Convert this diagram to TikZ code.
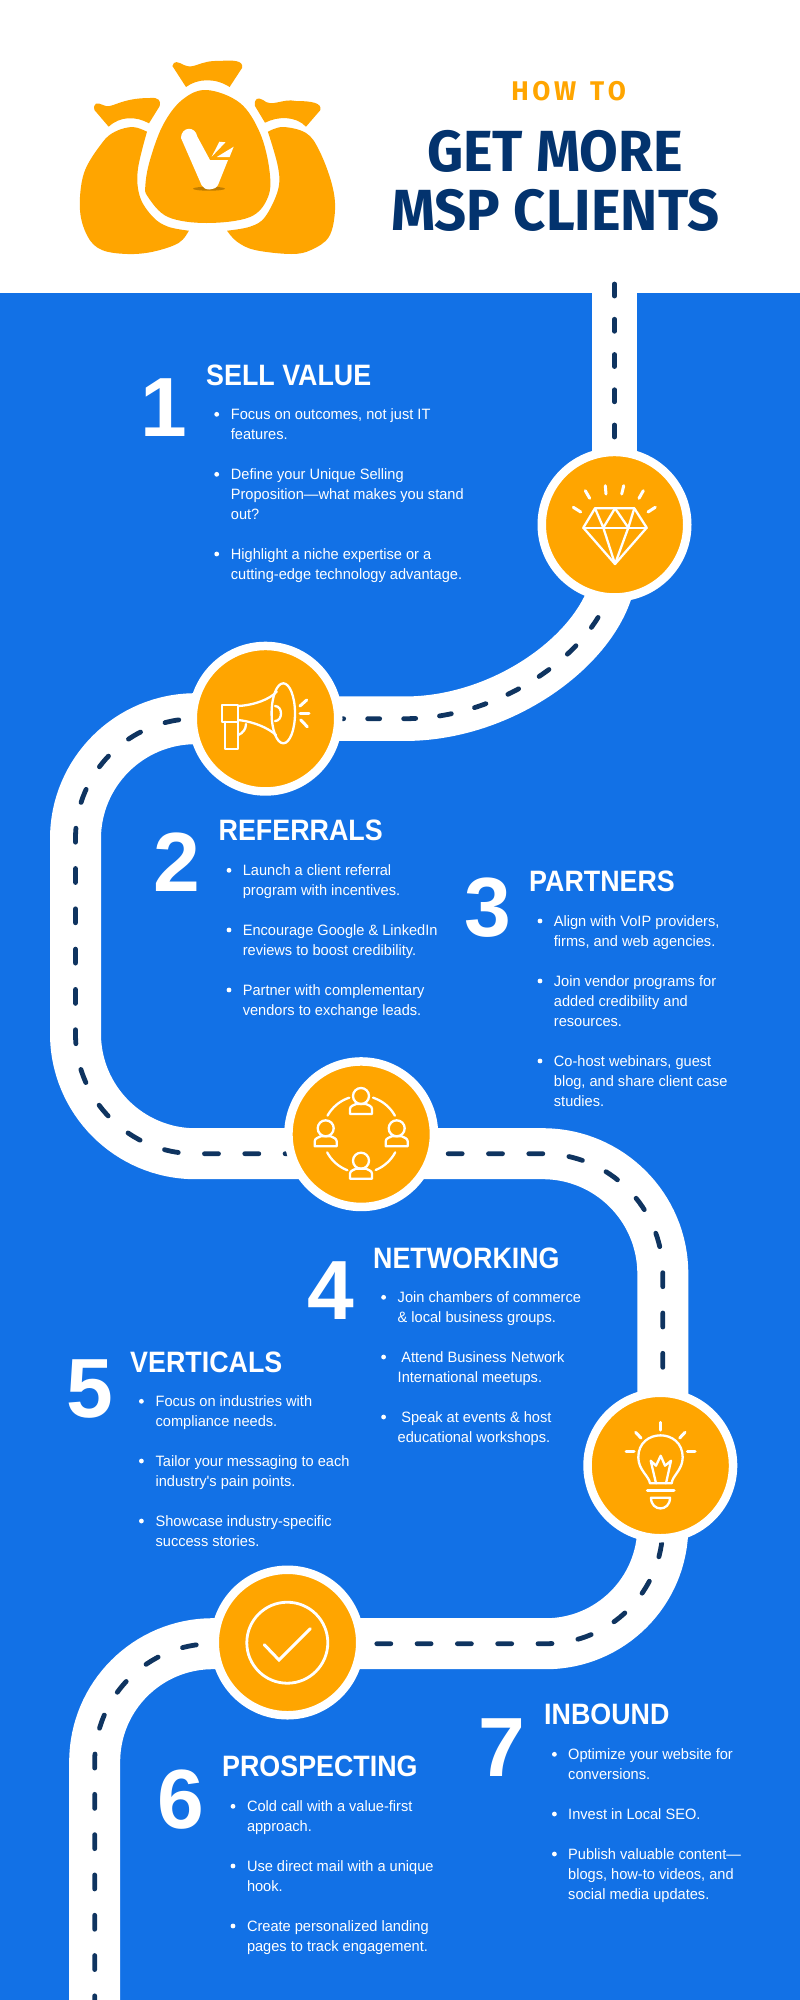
\documentclass[tikz,border=0pt]{standalone}
\usepackage{fontspec}
\setmainfont{Liberation Sans}
\newfontfamily\bodyfont[FakeStretch=0.973]{Liberation Sans}
\newfontfamily\headfont[FakeStretch=0.91]{Liberation Sans}
\newfontfamily\titlefont[FakeStretch=0.968]{Fira Sans}
\usetikzlibrary{backgrounds}
\definecolor{pageblue}{HTML}{1271E6}
\definecolor{stoporange}{HTML}{FFA500}
\definecolor{titlenavy}{HTML}{03336E}
\definecolor{roadink}{HTML}{0F3460}
\tikzset{
  road/.style n args={5}{draw=white,line width=#1pt,rounded corners=#2pt,
    postaction={draw=roadink,line width=4.8pt,line cap=round,dash pattern=on #3pt off #4pt,dash phase=#5pt}},
  stop/.style={circle,fill=stoporange,draw=white,line width=8.5pt,minimum size=145.5pt,inner sep=0pt},
  icon/.style={draw=white,line width=2.3pt,line cap=round,line join=round},
  ray/.style={draw=white,line width=3pt,line cap=round},
  bignum/.style={anchor=base,inner sep=0pt,text=white,font=\fontsize{84}{84}\selectfont\bfseries},
  heading/.style={anchor=base west,inner sep=0pt,text=white,font=\headfont\fontsize{29.5}{30}\selectfont\bfseries},
  body/.style={anchor=base west,inner sep=0pt,text=white,align=left,font=\bodyfont\fontsize{15}{20}\selectfont},
  person/.pic={
    \draw[icon] (0,0) circle (8pt);
    \draw[icon] (-11,18) -- (-11,13) .. controls (-11,10) and (-7,9) .. (-5,8) -- (5,8)
      .. controls (7,9) and (11,10) .. (11,13) -- (11,18) -- cycle;
  }
}
\begin{document}
\begin{tikzpicture}[x=1pt,y=-1pt]
\useasboundingbox (0,0) rectangle (800,2000);
% stops along the road
\node[stop] (gem) at (614.5,524.7) {};
\node[stop] (mega) at (265.5,718.7) {};
\node[stop] (people) at (361.2,1134.2) {};
\node[stop] (bulb) at (660.3,1465.5) {};
\node[stop] (check) at (287.5,1642.5) {};
\coordinate (roadtop) at (614.5,284);
\coordinate (bendA) at (75.5,1153.7);
\coordinate (bendB) at (662.8,1465);
\coordinate (bendC) at (94.7,1643.7);
\coordinate (roadend) at (94.7,2004);
\begin{scope}[on background layer]
\fill[pageblue] (0,293) rectangle (800,2000);
\draw[road={44.5}{0}{12}{23.25}{0}] (roadtop) -- (gem.center);
\draw[road={44.5}{0}{12}{24}{12}] (gem.center) -- (614.5,570) .. controls (610,640) and (510,718.7) .. (405,718.7) -- (mega.center);
\draw[road={51}{120}{14}{26.3}{34.1}] (mega.center) -| (bendA) -- (people |- bendA);
\draw[road={51}{120}{14}{26.3}{33.9}] (people |- bendA) -| (bendB);
\draw[road={51}{117}{14}{26.3}{2.5}] (bendB) |- (check |- bendC);
\draw[road={51}{118}{14}{26.3}{29.6}] (check |- bendC) -| (roadend);
\end{scope}
% header
\node[anchor=base,inner sep=0pt,text=stoporange] (howto) at (568.6,100.3)
  {\titlefont\fontsize{27}{27}\selectfont\bfseries H\kern3.7pt O\kern3.7pt W\; T\kern3.7pt O};
\node[anchor=base,inner sep=0pt,text=titlenavy] (getmore) at (555,171)
  {\titlefont\fontsize{58}{58}\selectfont\bfseries GET MORE};
\node[anchor=base,inner sep=0pt,text=titlenavy] (mspclients) at (555.5,230)
  {\titlefont\fontsize{58}{58}\selectfont\bfseries MSP CLIENTS};
% money bags
\fill[stoporange] plot[smooth cycle,tension=.6] coordinates {(206.6,90) (182,100) (163,125) (150,160) (145.4,185) (148,197) (168,217) (206.6,223) (250,217) (268,197) (269.4,170) (260,133) (240,103)};
\fill[stoporange] (172.4,66) .. controls (174,60) and (178,62) .. (184,65) .. controls (194,70) and (200,60) .. (219.4,61) .. controls (232,60) and (244,60) .. (242,68) -- (229.6,87) .. controls (216,78) and (198,78) .. (186,87) -- cycle;
\fill[stoporange] plot[smooth,tension=.6] coordinates {(147,131.7) (132.6,127) (115,131.7) (102,143) (84,173) (80,210) (87.8,236.7) (102,250) (127.6,254) (153,251.7) (178.6,243) (188.8,230.7)} -- plot[smooth,tension=.6] coordinates {(188.8,230.7) (168,226.7) (153,217) (140,197) (137.8,170) (147,131.7)};
\fill[stoporange] (94.4,110) .. controls (93,103) and (97,102) .. (103,105) .. controls (112,110) and (118,98) .. (150,98) .. controls (159,97) and (161,101) .. (159.7,106) -- (149,123.3) .. controls (136,116) and (120,116) .. (108.7,126.7) -- cycle;
\fill[stoporange] plot[smooth,tension=.6] coordinates {(267.9,131.7) (283,127) (306,133) (319,150) (331.6,183) (335,210) (329,236.7) (311,250) (291,254) (255,250) (237,241.7) (227,230.7)} -- plot[smooth,tension=.6] coordinates {(227,230.7) (250,226.7) (265,217) (278,190) (278,167) (267.9,131.7)};
\fill[stoporange] (255,106) .. controls (254,98) and (258,97) .. (263,100) .. controls (272,108) and (282,98) .. (296,101) .. controls (312,101) and (322,103) .. (320.4,110) -- (306,126.7) .. controls (296,116) and (278,116) .. (265,122.7) -- cycle;
\fill[black!25!stoporange] (209,188.7) ellipse (16pt and 2pt);
\fill[white] (181,138) .. controls (181,127) and (195,125) .. (197.4,136.7) -- (210,160) -- (228,160) -- (218,185) .. controls (215,191) and (204,191) .. (201.5,185) -- cycle;
\fill[white] (219.4,141.7) -- (225.5,142.3) -- (211.7,156.7) -- cycle;
\fill[white] (233.7,146.7) -- (229.6,157) -- (216.8,157) -- cycle;
% gem icon
\draw[icon] (595,508.3) -- (634.3,508.3) -- (646.7,527.7) -- (615,564) -- (583.3,527.7) -- cycle;
\draw[icon] (583.3,527.7) -- (646.7,527.7);
\draw[icon] (595,508.3) -- (603.3,527.7) -- (615,508.3) -- (628.3,527.7) -- (634.3,508.3);
\draw[icon] (603.3,527.7) -- (615,564) -- (628.3,527.7);
\foreach \xa/\ya/\xb/\yb in {573.3/507.3/580.7/512,585.3/490.7/589.7/498.3,605.3/485.7/606/494,623.7/485.7/621.7/494,643.3/490.7/639/498.3,655.3/507.3/648/512}
  \draw[ray] (\xa,\ya) -- (\xb,\yb);
% megaphone icon
\draw[icon] (222,705.3) rectangle (238.3,721.7);
\draw[icon] (225,721.7) -- (225,749.3) -- (237.7,749.3) -- (237.7,721.7);
\draw[icon] (238.3,706) .. controls (255,705) and (270,699) .. (276.7,691.7);
\draw[icon] (238.3,720) .. controls (255,722) and (268,728) .. (276,735);
\draw[icon] (283.3,713.3) ellipse (11.7pt and 30pt);
\draw[icon] (275,706) .. controls (283,706) and (283,721) .. (275,721);
\draw[icon] (238.3,735) .. controls (243,733) and (246,729) .. (246,724);
\foreach \xa/\ya/\xb/\yb in {300/706/306.7/700,300/713.3/309/713.3,300.7/720/307.3/726.7}
  \draw[ray] (\xa,\ya) -- (\xb,\yb);
% people icon
\foreach \px/\py in {361/1096,325.7/1128.3,396.7/1128.3,361/1160.7}
  \pic at (\px,\py) {person};
\foreach \angA/\angB in {29/72,108/151,208/249,292/332}
  \draw[icon] plot[domain=\angA:\angB,samples=12] ({361.2+38.5*cos(\x)},{1134.3-38.5*sin(\x)});
% bulb icon
\draw[icon] (650,1483.3) .. controls (649,1476) and (638.3,1470) .. (638.3,1457.3) .. controls (638.3,1428) and (682.7,1428) .. (682.7,1457.3) .. controls (682.7,1470) and (672,1476) .. (671.7,1483.3) -- cycle;
\draw[icon] (656,1483.3) -- (650.7,1460.7) -- (656,1465.7) -- (660.7,1455.7) -- (665,1465.7) -- (671,1460.7) -- (666,1483.3);
\draw[ray] (647.3,1490.7) -- (674,1490.7);
\draw[icon] (651,1497.7) -- (670,1497.7) .. controls (670,1512) and (651,1512) .. (651,1497.7) -- cycle;
\foreach \xa/\ya/\xb/\yb in {660/1422.3/660/1430,635.7/1432.3/641/1438,685/1432.3/679.7/1438,626/1451/634/1451,687.3/1451/695/1451}
  \draw[ray] (\xa,\ya) -- (\xb,\yb);
% check icon
\draw[draw=white,line width=2.8pt] (287.3,1642.7) circle (40.5pt);
\draw[ray] (264.3,1644.7) -- (279,1660) -- (310.3,1628.7);
% sections
\node[bignum] (numone) at (164,436.7) {1};
\node[heading] (headone) at (206,385) {SELL VALUE};
\node[body] (bodyone) at (230.7,579) {Focus on outcomes, not just IT\\features.\\[20pt]Define your Unique Selling\\Proposition—what makes you stand\\out?\\[20pt]Highlight a niche expertise or a\\cutting-edge technology advantage.};
\node[bignum] (numtwo) at (176.6,891) {2};
\node[heading] (headtwo) at (218.5,840.7) {REFERRALS};
\node[body] (bodytwo) at (242.6,1015) {Launch a client referral\\program with incentives.\\[20pt]Encourage Google \& LinkedIn\\reviews to boost credibility.\\[20pt]Partner with complementary\\vendors to exchange leads.};
\node[bignum] (numthree) at (487.4,936) {3};
\node[heading] (headthree) at (529,891.7) {PARTNERS};
\node[body] (bodythree) at (553.7,1106) {Align with VoIP providers,\\firms, and web agencies.\\[20pt]Join vendor programs for\\added credibility and\\resources.\\[20pt]Co-host webinars, guest\\blog, and share client case\\studies.};
\node[bignum] (numfour) at (331.3,1319) {4};
\node[heading] (headfour) at (373,1268.7) {NETWORKING};
\node[body] (bodyfour) at (397.5,1442) {Join chambers of commerce\\\& local business groups.\\[20pt]\hspace{3.6pt}Attend Business Network\\International meetups.\\[20pt]\hspace{3.6pt}Speak at events \& host\\educational workshops.};
\node[bignum] (numfive) at (90.2,1417) {5};
\node[heading] (headfive) at (130,1372.7) {VERTICALS};
\node[body] (bodyfive) at (155.4,1546) {Focus on industries with\\compliance needs.\\[20pt]Tailor your messaging to each\\industry's pain points.\\[20pt]Showcase industry-specific\\success stories.};
\node[bignum] (numsix) at (181,1828) {6};
\node[heading] (headsix) at (222,1776.7) {PROSPECTING};
\node[body] (bodysix) at (246.8,1951) {Cold call with a value-first\\approach.\\[20pt]Use direct mail with a unique\\hook.\\[20pt]Create personalized landing\\pages to track engagement.};
\node[bignum] (numseven) at (501.7,1776) {7};
\node[heading] (headseven) at (544,1724.7) {INBOUND};
\node[body] (bodyseven) at (568,1899) {Optimize your website for\\conversions.\\[20pt]Invest in Local SEO.\\[20pt]Publish valuable content—\\blogs, how-to videos, and\\social media updates.};
% bullet dots
\foreach \x/\y in {216.7/414.3,216.7/474.3,216.7/554,229/870.3,229/930,229/990,540/921,540/981,540/1061,383.6/1297.3,383.6/1357,383.6/1417,141.4/1401.3,141.4/1461,141.4/1521,233/1806.3,233/1866,233/1926,554.4/1754.3,554.4/1814,554.4/1854}
  \fill[white] (\x,\y) circle (2.4pt);
\end{tikzpicture}
\end{document}
